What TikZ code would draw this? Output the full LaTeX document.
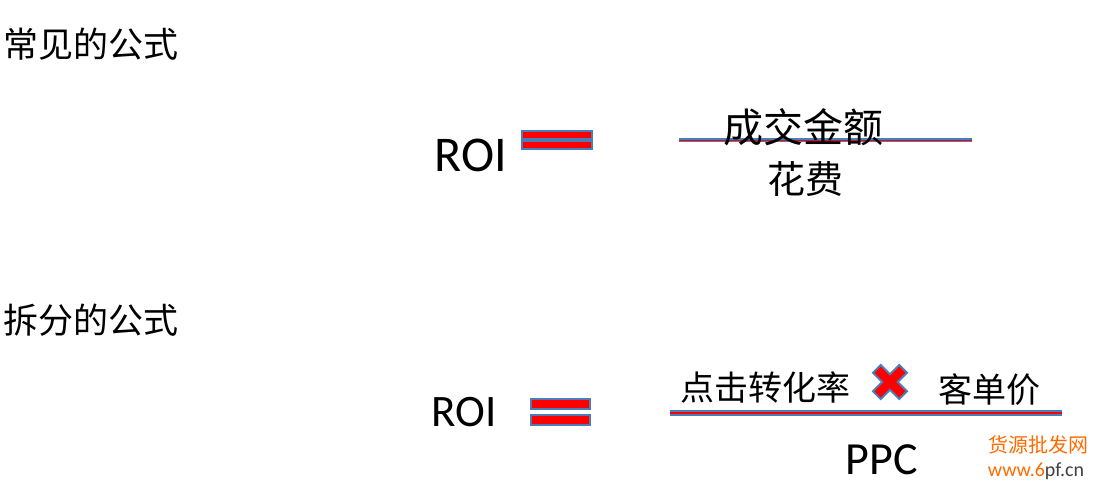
\documentclass[tikz,border=0pt]{standalone}
\usepackage{fontspec}
\setmainfont{Carlito}
\newfontfamily\cjk{Noto Sans CJK SC}
\definecolor{barblue}{HTML}{4A7EBB}
\definecolor{barred}{HTML}{FF0000}
\definecolor{markorange}{HTML}{FF6A00}
\definecolor{markgray}{HTML}{404040}
\begin{document}
\begin{tikzpicture}[x=1pt,y=-1pt,
	every node/.style={inner sep=0pt},
	heading/.style={anchor=west,font=\cjk\fontsize{35}{40}\selectfont},
	eqbar/.style={draw=barblue,line width=2pt,fill=barred,minimum height=#1},
	fracline/.style={draw=barblue,double=barred,double distance=#1,line width=1.6pt}]
	\useasboundingbox (0,0) rectangle (1097,491);
	% common formula
	\node[heading] (common) at (3,44) {常见的公式};
	\node[font=\fontsize{50}{56}\selectfont] (roiA) at (471,155) {ROI};
	\node[eqbar=8pt,minimum width=70pt] (eqAup) at (557,135.2) {};
	\node[eqbar=8pt,minimum width=70pt] (eqAdn) at (557,145) {};
	\coordinate (lineAl) at (679,140);
	\coordinate (lineAr) at (972,140);
	\draw[fracline=1pt] (lineAl) -- (lineAr);
	\node[font=\cjk\fontsize{40}{44}\selectfont] (amount) at (803,127) {成交金额};
	\node[font=\cjk\fontsize{38}{42}\selectfont] (cost) at (805,179) {花费};
	% split formula
	\node[heading] (split) at (3,320) {拆分的公式};
	\node[font=\fontsize{45}{50}\selectfont] (roiB) at (464,412) {ROI};
	\node[eqbar=10pt,minimum width=59pt] (eqBup) at (560,403.5) {};
	\node[eqbar=10pt,minimum width=59pt] (eqBdn) at (560,419.5) {};
	\coordinate (lineBl) at (670,413);
	\coordinate (lineBr) at (1062,413);
	\draw[fracline=2pt] (lineBl) -- (lineBr);
	\node[font=\cjk\fontsize{34}{38}\selectfont] (ctr) at (765,387) {点击转化率};
	\node[font=\cjk\fontsize{34}{38}\selectfont] (price) at (989,390) {客单价};
	\coordinate (times) at (890,382);
	\filldraw[draw=barblue,line width=2pt,fill=barred,shift={(times)}]
		(0,-7.8)--(9.2,-17)--(17,-9.2)--(7.8,0)--(17,9.2)--(9.2,17)--(0,7.8)
		--(-9.2,17)--(-17,9.2)--(-7.8,0)--(-17,-9.2)--(-9.2,-17)--cycle;
	\node[font=\fontsize{46}{50}\selectfont] (ppc) at (882,460) {PPC};
	% watermark
	\node[font=\cjk\fontsize{20}{22}\selectfont,text=markorange] (mark) at (1038,445) {货源批发网};
	\node[font=\fontsize{20}{22}\selectfont] (site) at (1036,471) {\color{markorange}www.6\color{markgray}pf.cn};
\end{tikzpicture}
\end{document}
